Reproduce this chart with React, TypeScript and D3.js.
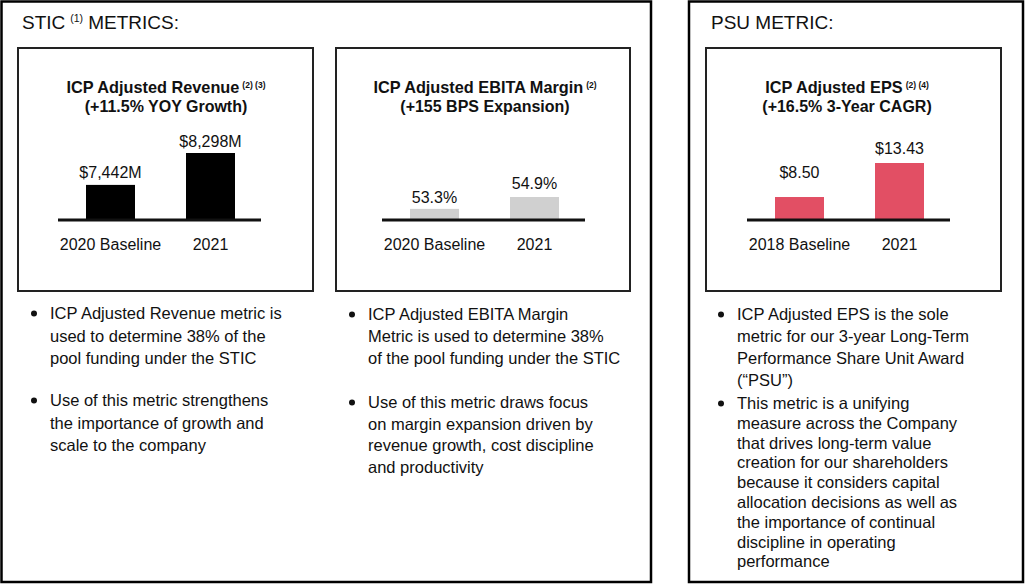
import React from "react";
import * as d3 from "d3";

// ---- Data ----
const revenueCategories = ["2020 Baseline", "2021"];
const revenueValues = [7442, 8298];
const revenueLabels = ["$7,442M", "$8,298M"];

const marginCategories = ["2020 Baseline", "2021"];
const marginValues = [53.3, 54.9];
const marginLabels = ["53.3%", "54.9%"];

const epsCategories = ["2018 Baseline", "2021"];
const epsValues = [8.5, 13.43];
const epsLabels = ["$8.50", "$13.43"];

const revenueBullets = [
  ["ICP Adjusted Revenue metric is", "used to determine 38% of the", "pool funding under the STIC"],
  ["Use of this metric strengthens", "the importance of growth and", "scale to the company"],
];
const marginBullets = [
  ["ICP Adjusted EBITA Margin", "Metric is used to determine 38%", "of the pool funding under the STIC"],
  ["Use of this metric draws focus", "on margin expansion driven by", "revenue growth, cost discipline", "and productivity"],
];
const epsBullets = [
  ["ICP Adjusted EPS is the sole", "metric for our 3-year Long-Term", "Performance Share Unit Award", "(\u201CPSU\u201D)"],
  [
    "This metric is a unifying",
    "measure across the Company",
    "that drives long-term value",
    "creation for our shareholders",
    "because it considers capital",
    "allocation decisions as well as",
    "the importance of continual",
    "discipline in operating",
    "performance",
  ],
];

const FONT = "'Liberation Sans', Arial, Helvetica, sans-serif";
const AXIS_Y = 220;

const panels = [
  {
    key: "rev",
    box: [18, 48, 313, 291],
    axisX: 58,
    axisW: 203,
    titleX: 166,
    title1: "ICP Adjusted Revenue",
    sup: "(2) (3)",
    title2: "(+11.5% YOY Growth)",
    cats: revenueCategories,
    values: revenueValues,
    labels: revenueLabels,
    domain: [6500, 8298],
    maxH: 67,
    color: "#000000",
    labelGaps: [7, 6],
    textX: 50,
    bullets: revenueBullets,
    starts: [319, 406],
    lineHs: [22.5, 22.5],
  },
  {
    key: "mar",
    box: [336, 48, 630, 291],
    axisX: 382,
    axisW: 203,
    titleX: 485,
    title1: "ICP Adjusted EBITA Margin",
    sup: "(2)",
    title2: "(+155 BPS Expansion)",
    cats: marginCategories,
    values: marginValues,
    labels: marginLabels,
    domain: [51.8, 54.9],
    maxH: 23,
    color: "#d0d0d0",
    labelGaps: [6, 8],
    textX: 368,
    bullets: marginBullets,
    starts: [320, 408],
    lineHs: [22, 21.5],
  },
  {
    key: "eps",
    box: [706, 48, 1001, 291],
    axisX: 747,
    axisW: 203,
    titleX: 847,
    title1: "ICP Adjusted EPS",
    sup: "(2) (4)",
    title2: "(+16.5% 3-Year CAGR)",
    cats: epsCategories,
    values: epsValues,
    labels: epsLabels,
    domain: [5.17, 13.43],
    maxH: 57,
    color: "#e24f64",
    labelGaps: [19, 9],
    textX: 737,
    bullets: epsBullets,
    starts: [320, 409],
    lineHs: [22, 19.8],
  },
];

function Panel({ p }: { p: any }) {
  const x = d3
    .scaleBand<string>()
    .domain(p.cats)
    .range([p.axisX, p.axisX + 205])
    .paddingInner(0.51)
    .paddingOuter(0.28);
  const y = d3.scaleLinear().domain(p.domain).range([AXIS_Y, AXIS_Y - p.maxH]);
  const [bx0, by0, bx1, by1] = p.box;
  return (
    <g>
      <rect x={bx0} y={by0} width={bx1 - bx0} height={by1 - by0} fill="none" stroke="#222" strokeWidth={2} />
      <text x={p.titleX} y={93} textAnchor="middle" fontFamily={FONT} fontWeight="bold" fontSize={16.3} fill="#111">
        {p.title1}
        <tspan fontSize={8.5} dx={3} dy={-5}>
          {p.sup}
        </tspan>
      </text>
      <text x={p.titleX} y={112} textAnchor="middle" fontFamily={FONT} fontWeight="bold" fontSize={16} fill="#111">
        {p.title2}
      </text>
      {p.cats.map((c: string, i: number) => (
        <g key={c}>
          <rect x={x(c)} y={y(p.values[i])} width={x.bandwidth()} height={AXIS_Y - y(p.values[i])} fill={p.color} />
          <text
            x={(x(c) as number) + x.bandwidth() / 2}
            y={y(p.values[i]) - p.labelGaps[i]}
            textAnchor="middle"
            fontFamily={FONT}
            fontSize={16}
            fill="#111"
          >
            {p.labels[i]}
          </text>
          <text
            x={(x(c) as number) + x.bandwidth() / 2}
            y={250}
            textAnchor="middle"
            fontFamily={FONT}
            fontSize={16}
            fill="#111"
          >
            {c}
          </text>
        </g>
      ))}
      <line x1={p.axisX} x2={p.axisX + p.axisW} y1={AXIS_Y} y2={AXIS_Y} stroke="#111" strokeWidth={3} />
      {p.bullets.map((lines: string[], bi: number) => (
        <g key={bi}>
          <circle cx={p.textX - 16} cy={p.starts[bi] - 5.5} r={3} fill="#111" />
          {lines.map((ln: string, li: number) => (
            <text
              key={li}
              x={p.textX}
              y={p.starts[bi] + li * p.lineHs[bi]}
              fontFamily={FONT}
              fontSize={16.5}
              fill="#111"
            >
              {ln}
            </text>
          ))}
        </g>
      ))}
    </g>
  );
}

export default function App() {
  return (
    <svg
      width={1026}
      height={584}
      style={{ position: "absolute", left: 0, top: 0, background: "#fff" }}
    >
      <rect x={0} y={0} width={1026} height={584} fill="#fff" />
      <rect x={1.5} y={1.5} width={649.5} height={580.5} fill="none" stroke="#000" strokeWidth={2.5} />
      <rect x={689} y={1.5} width={334} height={580.5} fill="none" stroke="#000" strokeWidth={2.5} />
      <text x={22} y={29} fontFamily={FONT} fontSize={19} fill="#111">
        STIC
        <tspan fontSize={10.5} dx={5} dy={-7}>
          (1)
        </tspan>
        <tspan dx={5} dy={7}>
          METRICS:
        </tspan>
      </text>
      <text x={711} y={29} fontFamily={FONT} fontSize={19} fill="#111">
        PSU METRIC:
      </text>
      {panels.map((p) => (
        <Panel key={p.key} p={p} />
      ))}
    </svg>
  );
}
